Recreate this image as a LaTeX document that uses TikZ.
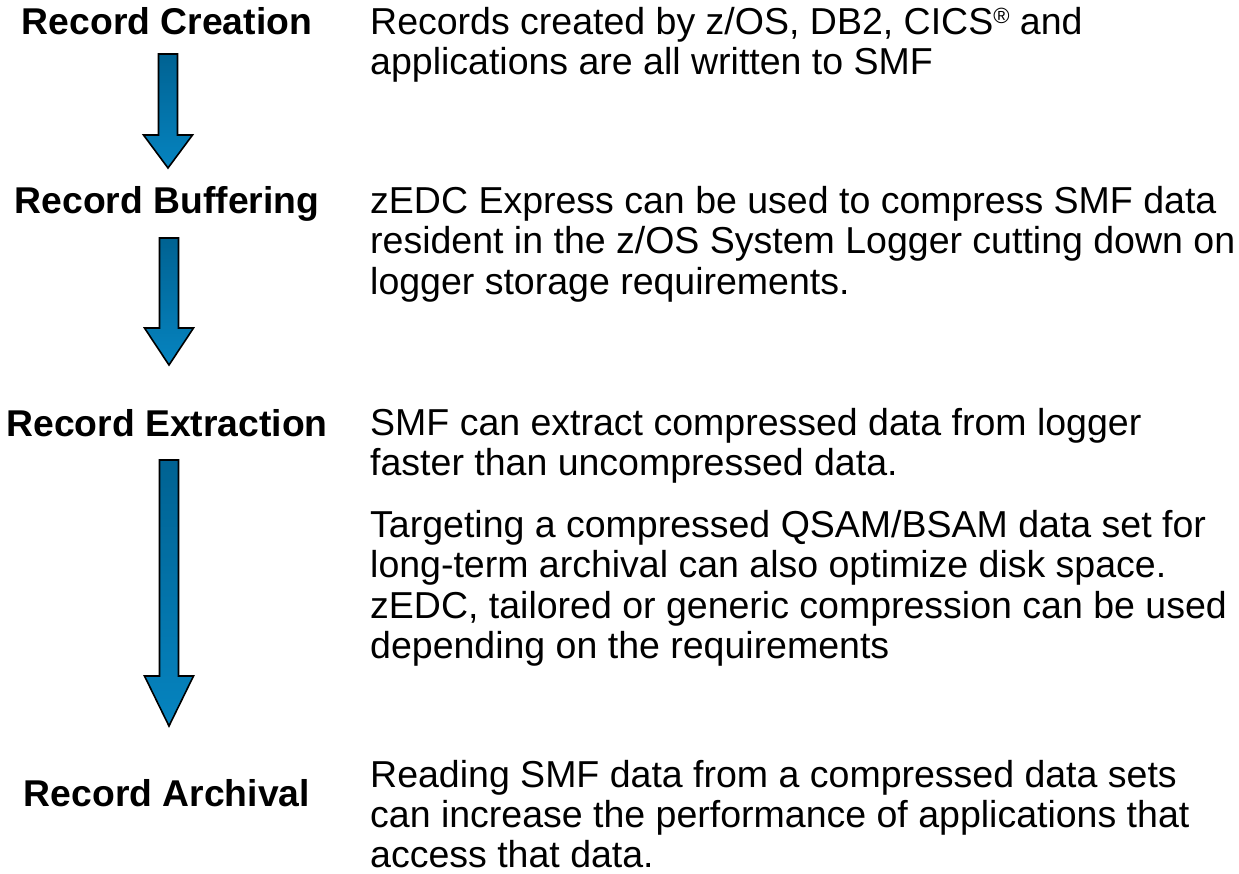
\documentclass[tikz,border=0pt]{standalone}
\usepackage{fontspec}
\setmainfont{Liberation Sans}
\definecolor{arrowtop}{RGB}{0,98,146}
\definecolor{arrowbot}{RGB}{6,132,192}
\tikzset{
  stage/.style={anchor=base, inner sep=0pt, font=\fontsize{37.3}{40}\selectfont\bfseries},
  body/.style={anchor=base west, inner sep=0pt, font=\fontsize{37.5}{40}\selectfont},
  blockarrow/.style={top color=arrowtop, bottom color=arrowbot, draw=black, line width=1.6pt, line join=miter},
}
\newcommand\bigdownarrow[4]{% x center, top, head start, tip
  \shade[blockarrow] (#1-9.5,#2) -- (#1+9.5,#2) -- (#1+9.5,#3) -- (#1+24.5,#3) -- (#1,#4)
    -- (#1-24.5,#3) -- (#1-9.5,#3) -- cycle;}
\newcommand\regmark{\raisebox{11pt}{\fontsize{22}{22}\selectfont ®}}
\begin{document}
\begin{tikzpicture}[x=1pt,y=-1pt]
\useasboundingbox (0,0) rectangle (1239,873);
% stage labels
\node[stage] (s1) at (167,34) {Record Creation};
\node[stage] (s2) at (167,213) {Record Buffering};
\node[stage] (s3) at (167,436) {Record Extraction};
\node[stage] (s4) at (167,806) {Record Archival};
% arrows
\bigdownarrow{168}{54}{135}{168}
\bigdownarrow{169}{238}{328}{365}
\bigdownarrow{169}{460}{676}{726}
% body text
\node[body] (p1a) at (370,34) {Records created by z/OS, DB2, CICS\regmark{} and};
\node[body] (p1b) at (370,74.5) {applications are all written to SMF};
\node[body] (p2a) at (370,213) {zEDC Express can be used to compress SMF data};
\node[body] (p2b) at (370,253.5) {resident in the z/OS System Logger cutting down on};
\node[body] (p2c) at (370,294) {logger storage requirements.};
\node[body] (p3a) at (370,435) {SMF can extract compressed data from logger};
\node[body] (p3b) at (370,475.5) {faster than uncompressed data.};
\node[body] (p3c) at (370,537) {Targeting a compressed QSAM/BSAM data set for};
\node[body] (p3d) at (370,577.5) {long-term archival can also optimize disk space.};
\node[body] (p3e) at (370,618) {zEDC, tailored or generic compression can be used};
\node[body] (p3f) at (370,658.5) {depending on the requirements};
\node[body] (p4a) at (370,787) {Reading SMF data from a compressed data sets};
\node[body] (p4b) at (370,827.5) {can increase the performance of applications that};
\node[body] (p4c) at (370,867) {access that data.};
\end{tikzpicture}
\end{document}
